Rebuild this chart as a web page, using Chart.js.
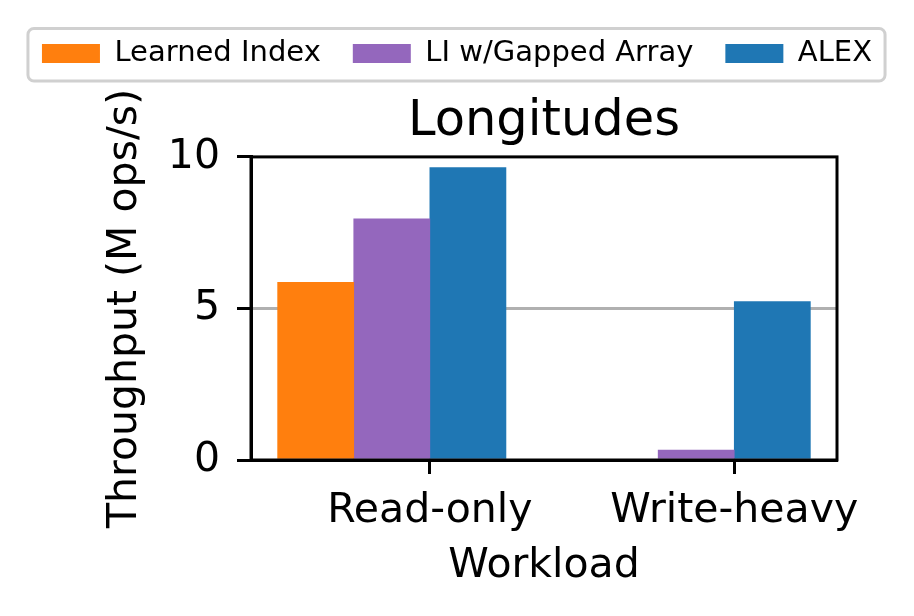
<!DOCTYPE html>
<html>
<head>
<meta charset="utf-8">
<title>Longitudes</title>
<script src="https://cdn.jsdelivr.net/npm/chart.js@4/dist/chart.umd.min.js"></script>
<style>
  html, body { margin: 0; padding: 0; background: #fff; }
</style>
</head>
<body>
<canvas id="chart" width="914" height="616"></canvas>
<script>
// chart data
const categories = ["Read-only", "Write-heavy"];
const seriesNames = ["Learned Index", "LI w/Gapped Array", "ALEX"];
const learnedIndex = [5.86, 0];
const gappedArray = [7.96, 0.33];
const alex = [9.65, 5.23];
const yTicks = [0, 5, 10];

document.addEventListener("DOMContentLoaded", () => {
  const series = [learnedIndex, gappedArray, alex];
  const colors = ["#ff7f0e", "#9467bd", "#1f77b4"];

  // bars sit like matplotlib's edge-aligned groups: two bars left of the tick, one right
  const barWidth = 0.25;
  const barOffsets = [-1.5, -0.5, 0.5].map(k => k * barWidth);
  const dataLeft = -2 * barWidth;
  const dataRight = categories.length - 1 + barWidth;
  const margin = 0.05 * (dataRight - dataLeft);

  Chart.defaults.font.family = "'DejaVu Sans', sans-serif";
  Chart.defaults.color = "#000";

  const datasets = seriesNames.map((name, s) => ({
    label: name,
    data: series[s].map((v, i) => ({ x: i + barOffsets[s], y: v })),
    backgroundColor: colors[s],
    borderWidth: 0,
    grouped: false,
    categoryPercentage: 1,
    barPercentage: 1,
  }));

  // black box round the plot and the grey frame round the legend
  const framePlugin = {
    id: "frame",
    afterDraw(chart) {
      const { ctx, chartArea: a } = chart;
      ctx.save();
      ctx.strokeStyle = "#000";
      ctx.lineWidth = 3;
      ctx.strokeRect(a.left, a.top, a.right - a.left, a.bottom - a.top);

      const boxes = chart.legend.legendHitBoxes;
      if (boxes && boxes.length) {
        const first = boxes[0];
        const last = boxes[boxes.length - 1];
        const left = first.left - 14;
        const right = last.left + last.width + 13;
        const top = first.top - 10.5;
        const bottom = first.top + first.height + 13;
        ctx.strokeStyle = "#d0d0d0";
        ctx.lineWidth = 3;
        ctx.beginPath();
        ctx.roundRect(left, top, right - left, bottom - top, 6);
        ctx.stroke();
      }
      ctx.restore();
    },
  };

  new Chart(document.getElementById("chart"), {
    type: "bar",
    data: { datasets },
    options: {
      responsive: false,
      animation: false,
      layout: { padding: { top: 7, right: 0, bottom: 0, left: 0 } },
      plugins: {
        legend: {
          position: "top",
          labels: {
            font: { size: 29 },
            boxWidth: 58,
            boxHeight: 19,
            padding: 32,
            color: "#000",
          },
        },
        title: {
          display: true,
          text: "Longitudes",
          font: { size: 49.5, weight: "normal" },
          padding: { top: 14.5, bottom: 5 },
          fullSize: false,
          weight: 500,
          color: "#000",
        },
        tooltip: { enabled: false },
      },
      scales: {
        x: {
          type: "linear",
          min: dataLeft - margin,
          max: dataRight + margin,
          offset: false,
          z: 1,
          afterFit: s => { s.height = 616 - 460; },
          afterBuildTicks: s => { s.ticks = categories.map((_, i) => ({ value: i })); },
          ticks: {
            font: { size: 41 },
            padding: 13,
            maxRotation: 0,
            autoSkip: false,
            callback: v => categories[v],
          },
          grid: {
            offset: false,
            drawOnChartArea: false,
            tickColor: "#000",
            tickWidth: 3,
            tickLength: 14,
          },
          border: { color: "#000", width: 3 },
          title: {
            display: true,
            text: "Workload",
            font: { size: 41 },
            padding: { top: 0, bottom: 25 },
          },
        },
        y: {
          min: 0,
          max: 10,
          z: 1,
          afterFit: s => { s.width = 251; },
          afterBuildTicks: s => { s.ticks = yTicks.map(v => ({ value: v })); },
          ticks: { font: { size: 41 }, padding: 17 },
          grid: {
            // only the inner tick gets a grey line, drawn above the bars
            color: c => (c.index > 0 && c.index < yTicks.length - 1) ? "#b0b0b0" : "rgba(0,0,0,0)",
            lineWidth: 3,
            tickColor: "#000",
            tickWidth: 3,
            tickLength: 14,
          },
          border: { color: "#000", width: 3 },
          title: {
            display: true,
            text: "Throughput (M ops/s)",
            font: { size: 41 },
            padding: { top: 101, bottom: 0 },
          },
        },
        // empty right-hand axis, only there to keep the right margin
        yRight: {
          position: "right",
          display: true,
          afterFit: s => { s.width = 914 - 837; },
          ticks: { display: false },
          grid: { display: false },
          border: { display: false },
        },
      },
    },
    plugins: [framePlugin],
  });
});
</script>
</body>
</html>
